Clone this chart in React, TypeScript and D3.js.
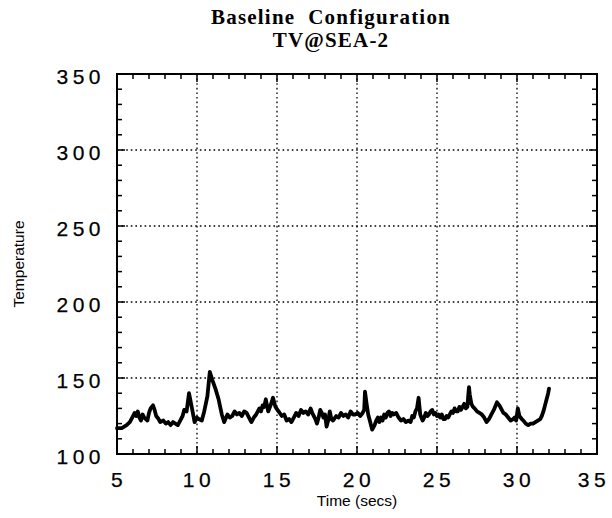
import React from "react";
import * as d3 from "d3";

// trace (time in secs, temperature)
const times = [
  5.0, 5.3, 5.6, 5.8, 5.95, 6.1, 6.2, 6.3, 6.4, 6.5, 6.6, 6.7, 6.9, 7.0, 7.1, 7.25, 7.35, 7.45, 7.6, 7.7,
  7.9, 8.05, 8.2, 8.35, 8.5, 8.65, 8.8, 9.0, 9.1, 9.2, 9.35, 9.5, 9.65, 9.85, 10.0, 10.1, 10.3, 10.45,
  10.55, 10.65, 10.8, 10.95, 11.15, 11.35, 11.55, 11.7, 11.9, 12.05, 12.2, 12.35, 12.5, 12.65, 12.8,
  12.95, 13.1, 13.25, 13.4, 13.55, 13.7, 13.9, 14.0, 14.1, 14.2, 14.3, 14.45, 14.6, 14.75, 14.9, 15.1,
  15.3, 15.45, 15.6, 15.75, 15.9, 16.05, 16.2, 16.35, 16.5, 16.65, 16.8, 16.95, 17.1, 17.2, 17.3, 17.4,
  17.5, 17.6, 17.7, 17.8, 17.9, 18.0, 18.1, 18.2, 18.3, 18.4, 18.5, 18.7, 18.85, 19.0, 19.15, 19.3, 19.45,
  19.6, 19.75, 19.9, 20.05, 20.2, 20.35, 20.45, 20.5, 20.6, 20.7, 20.8, 20.95, 21.1, 21.2, 21.3, 21.4,
  21.5, 21.6, 21.7, 21.8, 21.9, 22.0, 22.1, 22.2, 22.3, 22.45, 22.6, 22.75, 22.9, 23.05, 23.2, 23.35,
  23.45, 23.55, 23.65, 23.75, 23.85, 23.95, 24.1, 24.2, 24.3, 24.4, 24.5, 24.6, 24.7, 24.8, 24.9, 25.0,
  25.1, 25.2, 25.3, 25.4, 25.5, 25.6, 25.7, 25.8, 25.9, 26.0, 26.1, 26.2, 26.3, 26.4, 26.5, 26.6, 26.7,
  26.8, 26.9, 26.95, 27.0, 27.05, 27.15, 27.25, 27.35, 27.5, 27.65, 27.8, 27.95, 28.1, 28.25, 28.4,
  28.55, 28.75, 28.9, 29.0, 29.15, 29.3, 29.45, 29.6, 29.75, 29.85, 29.95, 30.05, 30.15, 30.3, 30.4, 30.55,
  30.7, 30.85, 31.0, 31.15, 31.3, 31.45, 31.55, 31.65, 31.75, 31.85, 31.95, 32.0,
];
const temps = [
  117, 117, 119, 121, 124, 127, 125, 128, 124, 122, 126, 124, 122, 127, 130, 132, 129, 125, 123, 121,
  122, 120, 121, 119, 121, 120, 119, 123, 125, 129, 128, 140, 132, 121, 124, 123, 122, 128,
  133, 138, 154, 149, 143, 136, 126, 121, 126, 124, 125, 128, 126, 127, 125,
  128, 127, 124, 121, 124, 126, 130, 128, 132, 131, 136, 128, 132, 137, 131, 128,
  125, 126, 122, 123, 121, 124, 127, 125, 129, 127, 128, 126, 130, 127, 125, 123,
  120, 124, 129, 127, 124, 126, 118, 122, 128, 123, 122, 125, 124, 127, 125, 126, 124,
  128, 126, 126, 127, 125, 127, 129, 141, 133, 126, 122, 116, 119, 122, 124, 121,
  124, 122, 126, 124, 127, 128, 125, 127, 126, 127, 124, 122, 123, 121, 122, 121,
  125, 124, 128, 130, 137, 126, 122, 124, 127, 125, 126, 128, 129, 126, 127, 125,
  126, 124, 126, 123, 123, 125, 124, 126, 128, 127, 130, 128, 128, 131, 129, 131, 133,
  130, 131, 138, 144, 139, 133, 131, 130, 128, 127, 126, 124, 121, 123, 126,
  129, 134, 132, 130, 127, 126, 124, 122, 123, 124, 122, 130, 125, 123, 122, 120,
  119, 120, 120, 121, 122, 123, 125, 128, 132, 136, 140, 143,
];

const xTicks = [5, 10, 15, 20, 25, 30, 35];
const yTicks = [100, 150, 200, 250, 300, 350];
const titleLines = ["Baseline  Configuration", "TV@SEA-2"];

const width = 612;
const height = 518;
const left = 117;
const right = 597;
const top = 74;
const bottom = 454;

export default function App() {
  const x = d3.scaleLinear().domain([5, 35]).range([left, right]);
  const y = d3.scaleLinear().domain([100, 350]).range([bottom, top]);

  const data = times.map((t, i) => [t, temps[i]] as [number, number]);
  const line = d3
    .line<[number, number]>()
    .x((d) => x(d[0]))
    .y((d) => y(d[1]));

  const xMinor = d3.range(5, 35.01, 1);
  const yMinor = d3.range(100, 350.01, 10);
  const sans = "Liberation Sans, Arial, sans-serif";

  return (
    <svg
      width={width}
      height={height}
      style={{ position: "absolute", left: 0, top: 0, background: "#fff" }}
    >
      {/* title */}
      {titleLines.map((s, i) => (
        <text
          key={s}
          x={331}
          y={24 + i * 23}
          textAnchor="middle"
          fontFamily="Liberation Serif, Times New Roman, serif"
          fontWeight="bold"
          fontSize={21}
          letterSpacing={1.2}
          style={{ whiteSpace: "pre" }}
        >
          {s}
        </text>
      ))}

      {/* grid */}
      <g stroke="#000" strokeWidth={1.3} strokeDasharray="1.6,3">
        {xTicks.slice(1, -1).map((t) => (
          <line key={t} x1={x(t)} x2={x(t)} y1={top} y2={bottom} />
        ))}
        {yTicks.slice(1, -1).map((t) => (
          <line key={t} x1={left} x2={right} y1={y(t)} y2={y(t)} />
        ))}
      </g>

      {/* minor and major ticks, inward on all sides */}
      <g stroke="#000" strokeWidth={1.5}>
        {xMinor.map((t) => {
          const len = t % 5 === 0 ? 8 : 5;
          return (
            <g key={t}>
              <line x1={x(t)} x2={x(t)} y1={bottom} y2={bottom - len} />
              <line x1={x(t)} x2={x(t)} y1={top} y2={top + len} />
            </g>
          );
        })}
        {yMinor.map((t) => {
          const len = t % 50 === 0 ? 8 : 5;
          return (
            <g key={t}>
              <line x1={left} x2={left + len} y1={y(t)} y2={y(t)} />
              <line x1={right} x2={right - len} y1={y(t)} y2={y(t)} />
            </g>
          );
        })}
      </g>

      {/* frame */}
      <rect
        x={left}
        y={top}
        width={right - left}
        height={bottom - top}
        fill="none"
        stroke="#000"
        strokeWidth={2}
      />

      {/* trace */}
      <path
        d={line(data) ?? ""}
        fill="none"
        stroke="#000"
        strokeWidth={3.8}
        strokeLinejoin="round"
        strokeLinecap="round"
      />

      {/* y tick labels */}
      {yTicks.map((t) => (
        <text
          key={t}
          x={105}
          y={y(t) + 10}
          textAnchor="end"
          fontFamily={sans}
          fontSize={21}
          letterSpacing={4.5}
          stroke="#000"
          strokeWidth={0.25}
        >
          {t}
        </text>
      ))}

      {/* x tick labels */}
      {xTicks.map((t) => (
        <text
          key={t}
          x={Math.min(x(t) + 2, 594)}
          y={487}
          textAnchor="middle"
          fontFamily={sans}
          fontSize={21}
          letterSpacing={4.5}
          stroke="#000"
          strokeWidth={0.25}
        >
          {t}
        </text>
      ))}

      <text x={357} y={506} textAnchor="middle" fontFamily={sans} fontSize={15.5}>
        Time (secs)
      </text>
      <text
        transform={`translate(24,${(top + bottom) / 2}) rotate(-90)`}
        textAnchor="middle"
        fontFamily={sans}
        fontSize={15.5}
      >
        Temperature
      </text>
    </svg>
  );
}
